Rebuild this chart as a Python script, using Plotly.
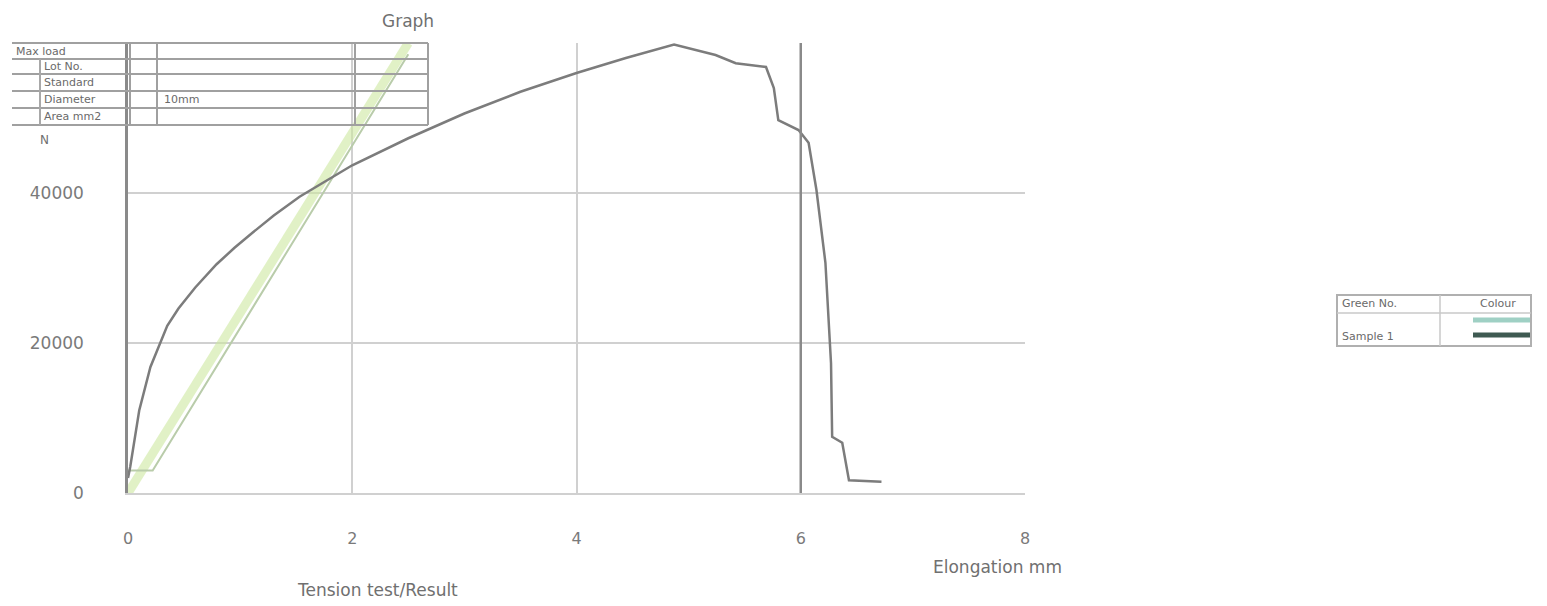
import plotly.graph_objects as go

# ---- data ----
elongation_mm = [0, 0.02, 0.1, 0.2, 0.26, 0.35, 0.45, 0.6, 0.79, 0.95, 1.11, 1.3, 1.53,
                 2.0, 2.5, 3.0, 3.5, 4.0, 4.44, 4.87, 5.24, 5.42, 5.69, 5.76, 5.8, 5.98,
                 6.07, 6.14, 6.22, 6.27, 6.28, 6.37, 6.43, 6.72]
load_n = [2000, 3500, 11000, 16800, 19000, 22300, 24600, 27400, 30500, 32700, 34700,
          37000, 39500, 43700, 47300, 50600, 53500, 56000, 58000, 59800, 58400, 57300,
          56800, 54000, 49700, 48400, 46700, 40400, 30700, 17300, 7500, 6700, 1700, 1500]

modulus_x = [0, 2.5]
modulus_y = [0, 60000]
modulus2_x = [0, 0.22, 2.5]
modulus2_y = [3000, 3000, 58500]

x_ticks = [0, 2, 4, 6, 8]
y_ticks = [0, 20000, 40000, 60000]
y_tick_text = ["0", "20000", "40000", ""]
marked_x = 6

table_rows = ["Max load", "Lot No.", "Standard", "Diameter", "Area mm2"]
table_vals = ["", "", "", "10mm", ""]
legend_rows = ["Green No.", "", "Sample 1"]

W, H = 1547, 606
L, R, T, B = 128, 1025, 43, 493
FONT = "DejaVu Sans"

def px(x):
    return (x - L) / (R - L)

def py(y):
    return (B - y) / (B - T)

fig = go.Figure()
fig.add_trace(go.Scatter(x=modulus_x, y=modulus_y, mode="lines",
                         line=dict(color="rgba(205,232,160,0.6)", width=9),
                         hoverinfo="skip", showlegend=False))
fig.add_trace(go.Scatter(x=modulus2_x, y=modulus2_y, mode="lines",
                         line=dict(color="#b9ccaa", width=2),
                         hoverinfo="skip", showlegend=False))
fig.add_trace(go.Scatter(x=elongation_mm, y=load_n, mode="lines",
                         line=dict(color="#7c7c7c", width=2.5),
                         showlegend=False))

shapes = []
shapes.append(dict(type="line", xref="x", yref="paper", x0=marked_x, x1=marked_x,
                   y0=0, y1=1, line=dict(color="#8a8a8a", width=2.5)))
tx = [12, 130, 157, 355, 428]
ty = [43, 59, 74, 91, 108, 125]
for yy in ty:
    shapes.append(dict(type="line", xref="paper", yref="paper", x0=px(12), x1=px(428),
                       y0=py(yy), y1=py(yy), line=dict(color="#a0a0a0", width=2)))
for xx in tx[1:]:
    shapes.append(dict(type="line", xref="paper", yref="paper", x0=px(xx), x1=px(xx),
                       y0=py(125), y1=py(43), line=dict(color="#a0a0a0", width=2)))
shapes.append(dict(type="line", xref="paper", yref="paper", x0=px(40), x1=px(40),
                   y0=py(125), y1=py(59), line=dict(color="#a8a8a8", width=2)))

lx0, lx1, ly0, ly1 = 1337, 1531, 295, 346
shapes.append(dict(type="rect", xref="paper", yref="paper", x0=px(lx0), x1=px(lx1),
                   y0=py(ly1), y1=py(ly0), line=dict(color="#b0b0b0", width=2)))
shapes.append(dict(type="line", xref="paper", yref="paper", x0=px(lx0), x1=px(lx1),
                   y0=py(313), y1=py(313), line=dict(color="#c8c8c8", width=1.5)))
shapes.append(dict(type="line", xref="paper", yref="paper", x0=px(1440), x1=px(1440),
                   y0=py(ly1), y1=py(ly0), line=dict(color="#c8c8c8", width=1.5)))
shapes.append(dict(type="line", xref="paper", yref="paper", x0=px(1473), x1=px(1530),
                   y0=py(320), y1=py(320), line=dict(color="#9fd0c4", width=5)))
shapes.append(dict(type="line", xref="paper", yref="paper", x0=px(1473), x1=px(1530),
                   y0=py(335), y1=py(335), line=dict(color="#3f5a52", width=5)))

ann = []
font_c = "#6a6a6a"

def add_text(t, x, y, size, xanchor="center", color="#707070"):
    ann.append(dict(text=t, x=px(x), y=py(y), xref="paper", yref="paper",
                    xanchor=xanchor, yanchor="middle", showarrow=False,
                    font=dict(size=size, color=color, family=FONT)))

add_text("Graph", 408, 21, 17)
add_text("Tension test/Result", 377, 590, 17)
add_text("Elongation mm", 997, 567, 17)
add_text("N", 44, 140, 12)
for i, t in enumerate(table_rows):
    x0 = 14 if i == 0 else 42
    add_text(t, x0, (ty[i] + ty[i + 1]) / 2, 11, "left", font_c)
for i, t in enumerate(table_vals):
    if t:
        add_text(t, 162, (ty[i] + ty[i + 1]) / 2, 11, "left", font_c)
add_text(legend_rows[0], 1340, 303, 11, "left", font_c)
add_text("Colour", 1478, 303, 11, "left", font_c)
add_text(legend_rows[2], 1340, 336, 11, "left", font_c)

fig.update_layout(
    width=W, height=H,
    margin=dict(l=L, r=W - R, t=T, b=H - B),
    paper_bgcolor="white", plot_bgcolor="white",
    shapes=shapes, annotations=ann,
    xaxis=dict(range=[0, 8], tickvals=x_ticks, showgrid=True, gridcolor="#d0d0d0",
               gridwidth=2, zeroline=False, showline=True, linecolor="#d0d0d0",
               linewidth=2, ticks="", ticklabelstandoff=30,
               tickfont=dict(size=16, color="#7a7a7a", family=FONT)),
    yaxis=dict(range=[0, 60000], tickvals=y_ticks, ticktext=y_tick_text, showgrid=True,
               gridcolor="#d0d0d0", gridwidth=2, zeroline=False, showline=True,
               linecolor="#8a8a8a", linewidth=2.5, ticks="", ticklabelstandoff=38,
               tickfont=dict(size=17, color="#7a7a7a", family=FONT)),
)
fig.write_html("out.html")
